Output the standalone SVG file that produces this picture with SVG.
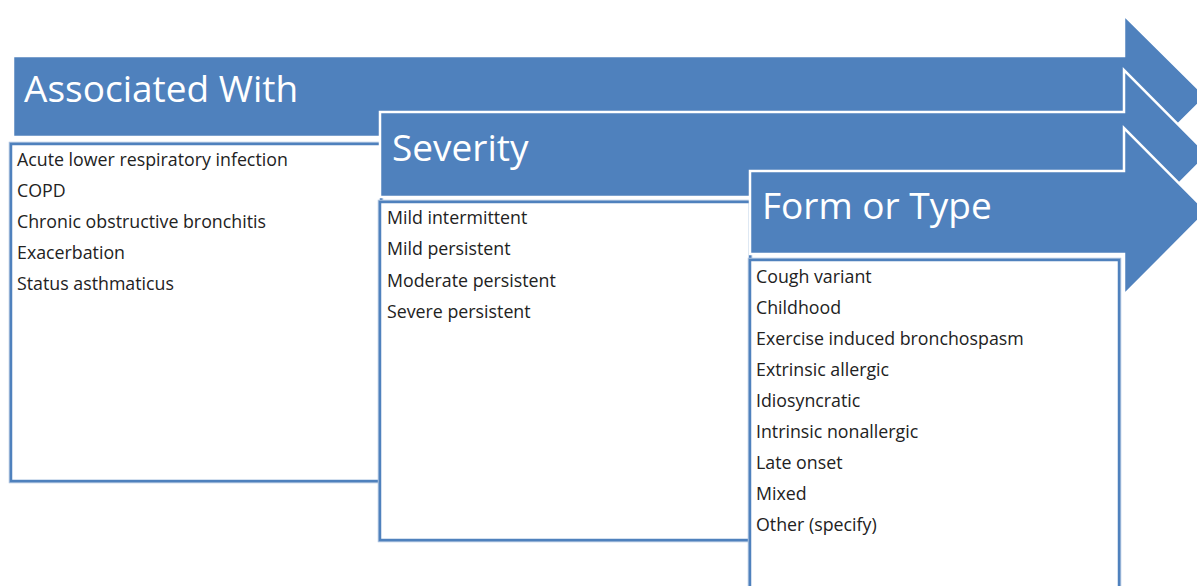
<svg xmlns="http://www.w3.org/2000/svg" width="1197" height="586" viewBox="0 0 1197 586">
<style>
.arrow{fill:#4F81BD;stroke:#FFFFFF;stroke-width:2.5;stroke-linejoin:miter}
.box{fill:#FFFFFF;stroke:#4F81BD;stroke-width:2.5}
.shadow{fill:none;stroke:#A9C0DE;stroke-width:1.5}
.hdr{font-family:"Open Sans","Liberation Sans",sans-serif;font-size:37px;fill:#FFFFFF}
.item{font-family:"Open Sans","Liberation Sans",sans-serif;font-size:17.8px;fill:#222222}
</style>
<rect width="1197" height="586" fill="#FFFFFF"/>
<g id="associated-with">
<path class="arrow" d="M13,56 H1124 V15 L1206,96.5 L1124,178 V137 H13 Z"/>
<text class="hdr" x="24" y="102">Associated With</text>
</g>
<g id="associated-list">
<rect class="shadow" x="9.5" y="142.5" width="373" height="340"/>
<rect class="box" x="11" y="144" width="370" height="337"/>
<text class="item" x="17" y="166">Acute lower respiratory infection</text>
<text class="item" x="17" y="197">COPD</text>
<text class="item" x="17" y="228">Chronic obstructive bronchitis</text>
<text class="item" x="17" y="259">Exacerbation</text>
<text class="item" x="17" y="290">Status asthmaticus</text>
</g>
<g id="severity">
<path class="arrow" d="M380,112 H1124 V70 L1208,154.5 L1124,239 V197 H380 Z"/>
<text class="hdr" x="392" y="161">Severity</text>
</g>
<g id="severity-list">
<rect class="shadow" x="378.5" y="200.5" width="373" height="341"/>
<rect class="box" x="380" y="202" width="370" height="338"/>
<text class="item" x="387" y="224">Mild intermittent</text>
<text class="item" x="387" y="255">Mild persistent</text>
<text class="item" x="387" y="287">Moderate persistent</text>
<text class="item" x="387" y="318">Severe persistent</text>
</g>
<g id="form-or-type">
<path class="arrow" d="M750,171 H1124 V128 L1207,211.5 L1124,295 V254 H750 Z"/>
<text class="hdr" x="762" y="219">Form or Type</text>
</g>
<g id="form-list">
<rect class="shadow" x="748.5" y="258.5" width="372" height="340"/>
<rect class="box" x="750" y="260" width="369" height="340"/>
<text class="item" x="756" y="283">Cough variant</text>
<text class="item" x="756" y="314">Childhood</text>
<text class="item" x="756" y="345">Exercise induced bronchospasm</text>
<text class="item" x="756" y="376">Extrinsic allergic</text>
<text class="item" x="756" y="407">Idiosyncratic</text>
<text class="item" x="756" y="438">Intrinsic nonallergic</text>
<text class="item" x="756" y="469">Late onset</text>
<text class="item" x="756" y="500">Mixed</text>
<text class="item" x="756" y="531">Other (specify)</text>
</g>
<g id="connectors"></g>
</svg>
